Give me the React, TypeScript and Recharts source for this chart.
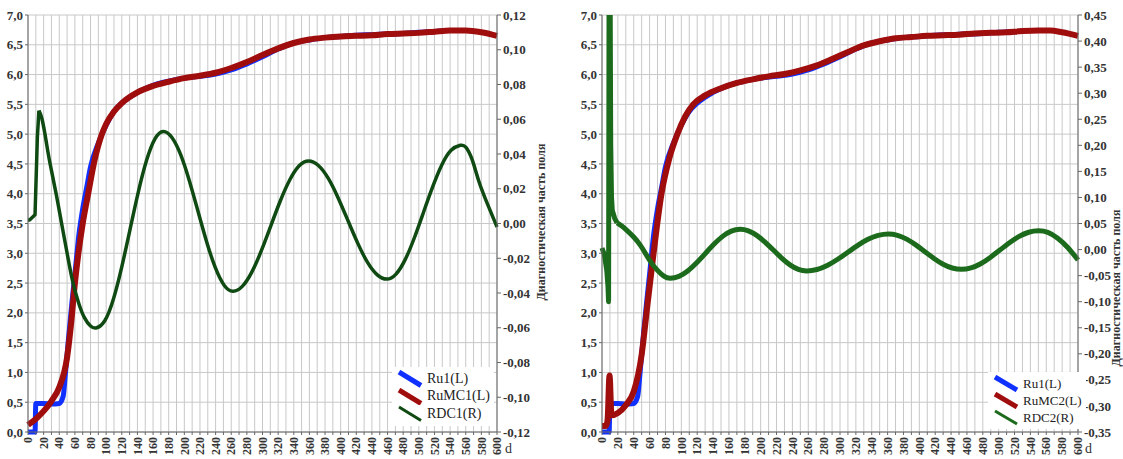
import React from "react";
import { LineChart, Line, XAxis, YAxis, CartesianGrid, Legend } from "recharts";

// --- days / values ---
const ru1Days = [0, 9, 10, 20, 30, 40, 45, 48, 52, 56, 60, 65, 70, 75, 80, 90, 100, 110, 120, 140, 160, 180, 200, 220, 240, 260, 280, 300, 320, 340, 360, 380, 400, 420, 440, 460, 480, 500, 520, 530];
const ru1Vals = [0, 0, 0.48, 0.48, 0.47, 0.48, 0.6, 1.0, 1.6, 2.15, 2.65, 3.3, 3.75, 4.1, 4.45, 4.85, 5.15, 5.38, 5.52, 5.7, 5.82, 5.89, 5.94, 5.97, 6.01, 6.08, 6.18, 6.3, 6.43, 6.53, 6.58, 6.62, 6.64, 6.66, 6.67, 6.68, 6.69, 6.71, 6.72, 6.73];

const rumc1Days = [0, 10, 20, 30, 40, 50, 55, 60, 65, 70, 77, 85, 94, 100, 110, 120, 140, 160, 180, 200, 220, 240, 260, 280, 300, 320, 340, 360, 380, 400, 420, 440, 460, 480, 500, 520, 540, 560, 580, 600];
const rumc1Vals = [0.12, 0.22, 0.35, 0.52, 0.75, 1.25, 1.8, 2.5, 3.05, 3.5, 4.0, 4.55, 4.98, 5.17, 5.38, 5.52, 5.7, 5.81, 5.88, 5.94, 5.98, 6.03, 6.11, 6.21, 6.33, 6.44, 6.53, 6.59, 6.62, 6.64, 6.65, 6.66, 6.68, 6.69, 6.7, 6.72, 6.74, 6.74, 6.71, 6.65];

const rdc1Days = [0, 2, 9, 12, 14, 18, 23, 28, 36, 43, 50, 57, 65, 72, 80, 88, 98.6, 109.3, 119.9, 130.5, 141.1, 151.8, 162.4, 173, 184.1, 195.3, 206.4, 217.5, 228.6, 239.8, 250.9, 262, 274.1, 286.3, 298.4, 310.5, 322.6, 334.8, 346.9, 359, 371.5, 384, 396.5, 409, 421.5, 434, 446.5, 459, 470.8, 482.5, 494.3, 506, 517.8, 529.5, 541.3, 553, 560, 568, 577, 588, 600];
const rdc1Vals = [0.002, 0.002, 0.005, 0.05, 0.065, 0.06, 0.048, 0.035, 0.017, 0, -0.017, -0.033, -0.046, -0.054, -0.059, -0.06, -0.0557, -0.0435, -0.0251, -0.0035, 0.0181, 0.0365, 0.0487, 0.053, 0.0495, 0.0396, 0.0246, 0.007, -0.0106, -0.0256, -0.0355, -0.039, -0.0362, -0.028, -0.0158, -0.0015, 0.0128, 0.025, 0.0332, 0.036, 0.0334, 0.0261, 0.015, 0.002, -0.011, -0.0221, -0.0294, -0.032, -0.0291, -0.0208, -0.0082, 0.0065, 0.0212, 0.0338, 0.0421, 0.045, 0.044, 0.037, 0.024, 0.011, -0.002];

const rumc2Days = [0, 5, 7, 9.5, 12, 20, 30, 40, 50, 57, 65, 75, 85, 95, 105, 115, 130, 150, 170, 190, 210, 230, 250, 270, 290, 310, 330, 350, 370, 390, 410, 430, 450, 470, 490, 510, 530, 550, 565, 580, 600];
const rumc2Vals = [0.1, 0.1, 0.2, 0.95, 0.28, 0.32, 0.45, 0.68, 1.3, 2.1, 3.0, 4.0, 4.6, 5.0, 5.3, 5.5, 5.65, 5.77, 5.86, 5.92, 5.97, 6.01, 6.07, 6.15, 6.26, 6.38, 6.49, 6.56, 6.61, 6.63, 6.65, 6.66, 6.67, 6.69, 6.7, 6.71, 6.73, 6.74, 6.74, 6.71, 6.65];

const rdc2Days = [0, 3, 6, 7.5, 8.3, 9, 10, 11, 12, 13, 16, 19, 25, 32, 40, 48, 55, 62, 70, 78, 86, 97, 108, 119, 130, 141, 152, 163, 174, 184.5, 195, 205.5, 216, 226.5, 237, 247.5, 258, 270.9, 283.8, 296.6, 309.5, 322.4, 335.3, 348.1, 361, 372.5, 384, 395.5, 407, 418.5, 430, 441.5, 453, 465.1, 477.3, 489.4, 501.5, 513.6, 525.8, 537.9, 550, 562, 574, 587, 600];
const rdc2Vals = [0.003, -0.01, -0.04, -0.07, -0.1, 0.6, 0.6, 0.2, 0.1, 0.075, 0.06, 0.051, 0.045, 0.036, 0.024, 0.009, -0.008, -0.025, -0.04, -0.051, -0.055, -0.0514, -0.0413, -0.026, -0.008, 0.01, 0.0253, 0.0354, 0.039, 0.036, 0.0273, 0.0143, -0.001, -0.0163, -0.0293, -0.038, -0.041, -0.0383, -0.0306, -0.0191, -0.0055, 0.0081, 0.0196, 0.0273, 0.03, 0.0274, 0.0201, 0.009, -0.004, -0.017, -0.0281, -0.0354, -0.038, -0.0352, -0.0272, -0.0151, -0.001, 0.0131, 0.0252, 0.0332, 0.036, 0.033, 0.022, 0.004, -0.02];

const dayTicks = [0, 10, 20, 30, 40, 50, 60, 70, 80, 90, 100, 110, 120, 130, 140, 150, 160, 170, 180, 190, 200, 210, 220, 230, 240, 250, 260, 270, 280, 290, 300, 310, 320, 330, 340, 350, 360, 370, 380, 390, 400, 410, 420, 430, 440, 450, 460, 470, 480, 490, 500, 510, 520, 530, 540, 550, 560, 570, 580, 590, 600];
const leftTicks = [0, 0.5, 1, 1.5, 2, 2.5, 3, 3.5, 4, 4.5, 5, 5.5, 6, 6.5, 7];
const right1Ticks = [-0.12, -0.1, -0.08, -0.06, -0.04, -0.02, 0, 0.02, 0.04, 0.06, 0.08, 0.1, 0.12];
const right2Ticks = [-0.35, -0.3, -0.25, -0.2, -0.15, -0.1, -0.05, 0, 0.05, 0.1, 0.15, 0.2, 0.25, 0.3, 0.35, 0.4, 0.45];

const zip = (days: number[], vals: number[]) => days.map((d, i) => ({ d, v: vals[i] }));

const BLUE = "#1030ff";
const RED = "#a00d0d";
const GREEN1 = "#0f4a12";
const GREEN2 = "#1c6b1c";
const SERIF = "'Liberation Serif', 'Times New Roman', serif";

const fmt = (digits: number) => (v: number) => v.toFixed(digits).replace(".", ",");

const XTick = (props: any) => {
  const { x, y, payload } = props;
  if (payload.value % 20 !== 0) return <g />;
  return (
    <text
      x={x}
      y={y}
      transform={`rotate(-90 ${x} ${y})`}
      textAnchor="end"
      dy="0.35em"
      fontFamily={SERIF}
      fontWeight="bold"
      fontSize={12}
      fill="#333"
    >
      {payload.value}
    </text>
  );
};

// keep legend rows in series order
const makeLegend = (names: string[], widths: number[], fontSize: number, rowH: number) => (props: any) => {
  const items = props.payload || [];
  return (
    <div style={{ background: "#fff", padding: "3px 4px", fontFamily: SERIF, fontSize, color: "#222" }}>
      {names.map((n, i) => {
        const it = items.find((x: any) => x.value === n);
        return (
          <div key={n} style={{ display: "flex", alignItems: "center", height: rowH }}>
            <svg width={28} height={rowH} style={{ flex: "none" }}>
              <line x1={3} y1={2} x2={25} y2={rowH - 2} stroke={it ? it.color : "#000"} strokeWidth={widths[i]} />
            </svg>
            <span style={{ marginLeft: 3 }}>{n}</span>
          </div>
        );
      })}
    </div>
  );
};

const tickStyle = { fontFamily: SERIF, fontWeight: "bold" as const, fontSize: 13, fill: "#333" };

type Pt = { d: number; v: number };
type PanelProps = {
  width: number;
  leftW: number;
  rightW: number;
  red: Pt[];
  green: Pt[];
  greenSplit: number; // index where the start spike ends and the smooth wave begins
  redName: string;
  greenName: string;
  greenColor: string;
  greenWidth: number;
  rightTicks: number[];
  legendPos: { left: number; top: number };
  legendFont: number;
  legendRow: number;
};

function Panel(p: PanelProps) {
  const blue = zip(ru1Days, ru1Vals);
  const rMin = p.rightTicks[0];
  const rMax = p.rightTicks[p.rightTicks.length - 1];
  const spike = p.green.slice(0, p.greenSplit + 1);
  const wave = p.green.slice(p.greenSplit);
  return (
    <LineChart width={p.width} height={459} margin={{ top: 15, right: 0, bottom: 0, left: 0 }}>
      <CartesianGrid yAxisId="left" stroke="#c8c8c8" strokeWidth={1} />
      <XAxis
        dataKey="d"
        type="number"
        domain={[0, 600]}
        ticks={dayTicks}
        interval={0}
        height={27}
        tick={<XTick />}
        tickSize={3}
        tickMargin={2}
        stroke="#666"
        allowDuplicatedCategory={false}
      />
      <XAxis xAxisId="top" orientation="top" type="number" domain={[0, 600]} height={0} tick={false} tickLine={false} stroke="#666" />
      <YAxis
        yAxisId="left"
        type="number"
        domain={[0, 7]}
        ticks={leftTicks}
        interval={0}
        width={p.leftW}
        tickFormatter={fmt(1)}
        tick={tickStyle}
        tickSize={3}
        tickMargin={2}
        stroke="#666"
      />
      <YAxis
        yAxisId="right"
        orientation="right"
        type="number"
        domain={[rMin, rMax]}
        allowDataOverflow
        ticks={p.rightTicks}
        interval={0}
        width={p.rightW}
        tickFormatter={fmt(2)}
        tick={{ ...tickStyle, textAnchor: "start" }}
        tickSize={4}
        tickMargin={2}
        stroke="#666"
      />
      <Line yAxisId="left" type="monotone" data={blue} dataKey="v" name="Ru1(L)" stroke={BLUE} strokeWidth={5} dot={false} activeDot={false} isAnimationActive={false} />
      <Line yAxisId="left" type="monotone" data={p.red} dataKey="v" name={p.redName} stroke={RED} strokeWidth={6} dot={false} activeDot={false} isAnimationActive={false} />
      <Line yAxisId="right" type="linear" data={spike} dataKey="v" name={p.greenName} stroke={p.greenColor} strokeWidth={p.greenWidth} strokeLinejoin="round" dot={false} activeDot={false} isAnimationActive={false} />
      <Line yAxisId="right" type="natural" data={wave} dataKey="v" name={p.greenName + " "} legendType="none" stroke={p.greenColor} strokeWidth={p.greenWidth} dot={false} activeDot={false} isAnimationActive={false} />
      <Legend
        layout="vertical"
        align="center"
        verticalAlign="middle"
        content={makeLegend(["Ru1(L)", p.redName, p.greenName], [5, 5, 3], p.legendFont, p.legendRow)}
        wrapperStyle={{ left: p.legendPos.left, top: p.legendPos.top, width: "auto", height: "auto" }}
      />
    </LineChart>
  );
}

const titleStyle = (left: number, top: number): React.CSSProperties => ({
  position: "absolute",
  left,
  top,
  transform: "translate(-50%, -50%) rotate(-90deg)",
  whiteSpace: "nowrap",
  fontFamily: SERIF,
  fontWeight: "bold",
  fontSize: 12,
  color: "#333",
});

const dStyle = (left: number, top: number): React.CSSProperties => ({
  position: "absolute",
  left,
  top,
  fontFamily: SERIF,
  fontSize: 14,
  color: "#333",
});

export default function App() {
  return (
    <div style={{ position: "absolute", left: 0, top: 0, width: 1123, height: 459, background: "#fff", overflow: "hidden" }}>
      <div style={{ position: "absolute", left: 0, top: 0 }}>
        <Panel
          width={560}
          leftW={28}
          rightW={63}
          red={zip(rumc1Days, rumc1Vals)}
          green={zip(rdc1Days, rdc1Vals)}
          greenSplit={4}
          redName="RuMC1(L)"
          greenName="RDC1(R)"
          greenColor={GREEN1}
          greenWidth={3.5}
          rightTicks={right1Ticks}
          legendPos={{ left: 392, top: 367 }}
          legendFont={14}
          legendRow={17.5}
        />
      </div>
      <div style={{ position: "absolute", left: 560, top: 0 }}>
        <Panel
          width={563}
          leftW={42}
          rightW={45}
          red={zip(rumc2Days, rumc2Vals)}
          green={zip(rdc2Days, rdc2Vals)}
          greenSplit={11}
          redName="RuMC2(L)"
          greenName="RDC2(R)"
          greenColor={GREEN2}
          greenWidth={5}
          rightTicks={right2Ticks}
          legendPos={{ left: 428, top: 372 }}
          legendFont={13}
          legendRow={17}
        />
      </div>
      <div style={titleStyle(541, 222)}>Диагностическая часть поля</div>
      <div style={titleStyle(1116, 288)}>Диагностическая часть поля</div>
      <div style={dStyle(505, 441)}>d</div>
      <div style={dStyle(1085, 441)}>d</div>
    </div>
  );
}
